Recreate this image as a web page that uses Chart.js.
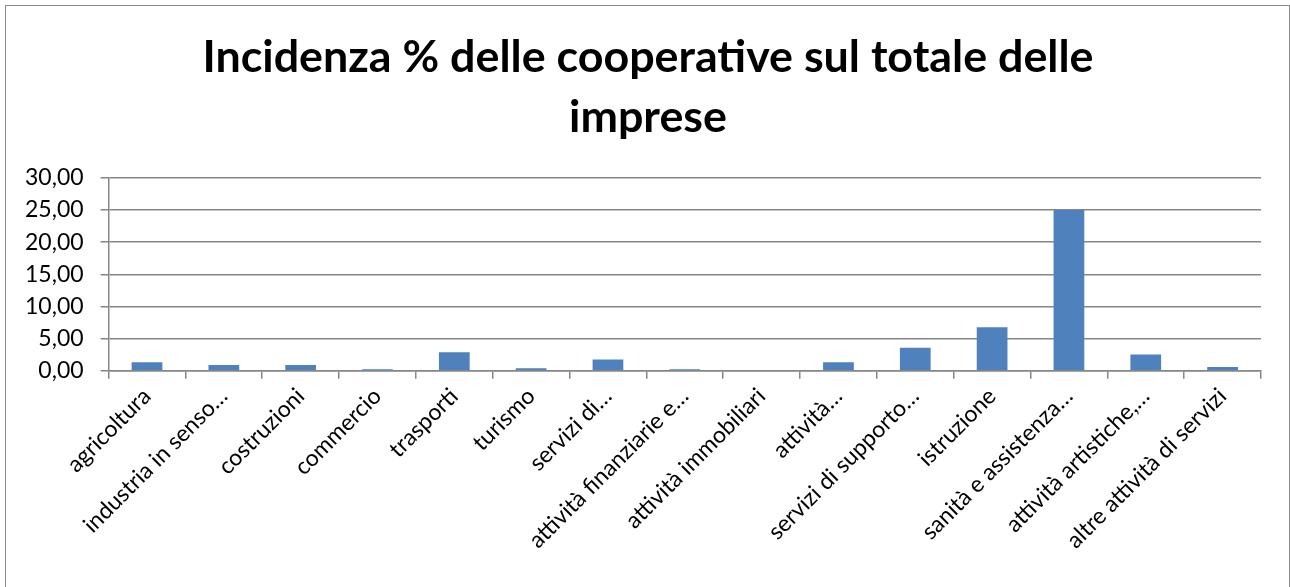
<!DOCTYPE html>
<html>
<head>
<meta charset="utf-8">
<script src="https://cdn.jsdelivr.net/npm/chart.js@4/dist/chart.umd.min.js"></script>
<style>
  html, body { margin: 0; padding: 0; background: #fff; }
  #wrap { position: absolute; left: 0; top: 0; width: 1290px; height: 587px; }
  #frame { position: absolute; left: 5px; top: 5px; width: 1285px; height: 600px; border: 1px solid #8c8c8c; box-sizing: border-box; pointer-events: none; }
</style>
</head>
<body>
<div id="wrap"><canvas id="c" width="1290" height="587"></canvas></div>
<div id="frame"></div>
<script>
const titleLines = ["Incidenza % delle cooperative sul totale delle", "imprese"];
const categories = [
  "agricoltura", "industria in senso…", "costruzioni", "commercio", "trasporti",
  "turismo", "servizi di…", "attività finanziarie e…", "attività immobiliari", "attività…",
  "servizi di supporto…", "istruzione", "sanità e assistenza…", "attività artistiche,…", "altre attività di servizi"
];
const values = [1.32, 0.88, 0.88, 0.20, 2.85, 0.36, 1.72, 0.20, 0.00, 1.32, 3.58, 6.75, 25.00, 2.50, 0.56];
const yTicks = [0, 5, 10, 15, 20, 25, 30];

const FONT = "Lato, 'Open Sans', sans-serif";
const shiftTitle = {
  id: 'shiftTitle',
  afterLayout(chart) {
    const t = chart.titleBlock;
    if (t) { t.left += 13.5; t.right += 13.5; }
  }
};
new Chart(document.getElementById('c'), {
  type: 'bar',
  data: {
    labels: categories,
    datasets: [{
      data: values,
      backgroundColor: '#4F81BD',
      borderWidth: 0,
      barPercentage: 0.8,
      categoryPercentage: 0.5
    }]
  },
  plugins: [shiftTitle],
  options: {
    responsive: false,
    animation: false,
    devicePixelRatio: 1,
    layout: { padding: { left: 8, right: 29, top: 27, bottom: 29 } },
    plugins: {
      legend: { display: false },
      tooltip: { enabled: false },
      title: {
        display: true,
        text: titleLines,
        color: '#000',
        font: { family: FONT, size: 44.8, weight: 'bold', lineHeight: 1.35 },
        padding: { top: 0, bottom: 30 }
      }
    },
    scales: {
      x: {
        grid: { display: true, drawOnChartArea: false, drawTicks: true, tickLength: 8, color: '#868686', lineWidth: 1.5, offset: true },
        border: { display: true, color: '#868686', width: 1.5 },
        ticks: { color: '#000', font: { family: FONT, size: 23 }, maxRotation: 45, minRotation: 45, autoSkip: false, padding: 4 }
      },
      y: {
        min: 0, max: 30,
        afterBuildTicks: (axis) => { axis.ticks = yTicks.map(v => ({ value: v })); },
        grid: { color: '#868686', lineWidth: 1.5, tickLength: 8 },
        border: { display: true, color: '#868686', width: 1.5 },
        ticks: {
          color: '#000', font: { family: FONT, size: 23 }, padding: 17,
          callback: (v) => Number(v).toFixed(2).replace('.', ',')
        }
      }
    }
  }
});
</script>
</body>
</html>
